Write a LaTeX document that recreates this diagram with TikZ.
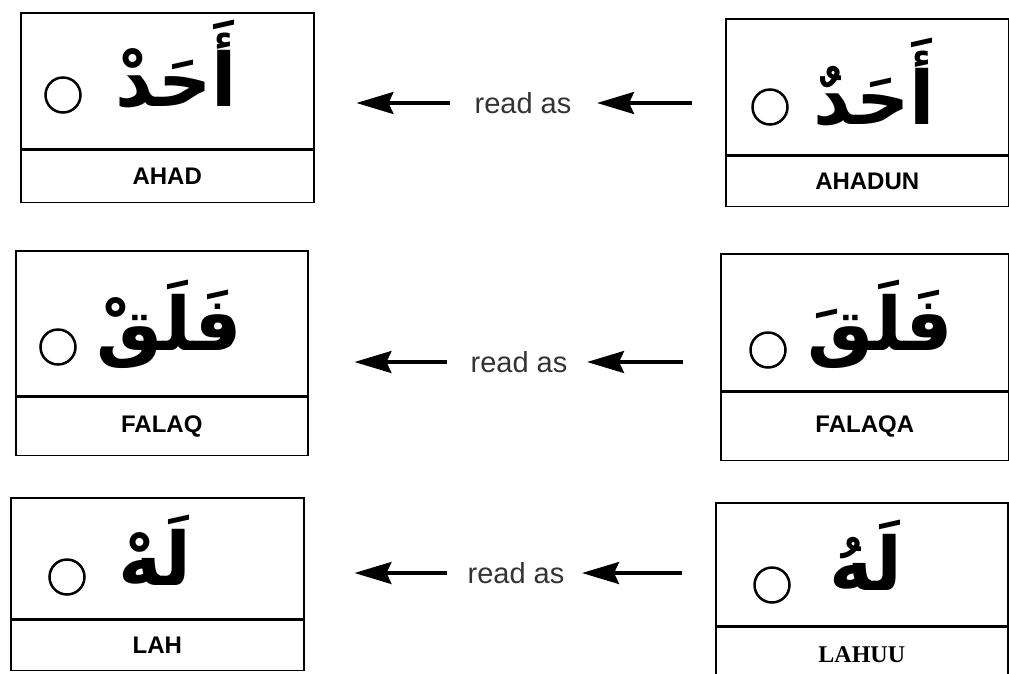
\documentclass[tikz,border=0pt]{standalone}
\usepackage{fontspec}
\setmainfont{Liberation Sans}
\newfontfamily\arabicfont[Script=Arabic]{DejaVu Sans}
\newfontfamily\serifname{Liberation Serif}
\TeXXeTstate=1
\usetikzlibrary{arrows.meta}

\tikzset{
  wordbox/.style={draw,line width=1.5pt,anchor=north west,inner sep=0pt},
  namebox/.style={draw,line width=1.5pt,anchor=north west,inner sep=0pt,
    font=\fontsize{24}{28}\selectfont\bfseries},
  divider/.style={line width=2.6pt},
  ring/.style={circle,draw,line width=2.5pt,minimum size=35pt,inner sep=0pt},
  word/.style={anchor=base,inner sep=0pt,font=\fontsize{74}{86}\arabicfont\bfseries},
  readas/.style={inner sep=0pt,font=\fontsize{29}{34}\selectfont,text=black!80},
  readarrow/.style={-{Stealth[length=37pt,width=22pt,inset=5pt]},line width=3.2pt},
}

\begin{document}
\begin{tikzpicture}[x=1pt,y=-1pt]
  \useasboundingbox (0,0) rectangle (1009,673);
  % left column: how the word is read
  \node[wordbox,minimum width=293pt,minimum height=136pt](ahad)at(20,12){};
  \node[namebox,minimum width=293pt,minimum height=52pt](ahadname)at(ahad.south west){AHAD};
  \node[wordbox,minimum width=292pt,minimum height=145pt](falaq)at(15,250){};
  \node[namebox,minimum width=292pt,minimum height=58pt](falaqname)at(falaq.south west){FALAQ};
  \node[wordbox,minimum width=293pt,minimum height=121pt](lah)at(10,497){};
  \node[namebox,minimum width=293pt,minimum height=50pt](lahname)at(lah.south west){LAH};
  % right column: the word as written
  \node[wordbox,minimum width=283pt,minimum height=136pt](ahadun)at(725,18){};
  \node[namebox,minimum width=283pt,minimum height=50pt](ahadunname)at(ahadun.south west){AHADUN};
  \node[wordbox,minimum width=288pt,minimum height=137pt](falaqa)at(720,253){};
  \node[namebox,minimum width=288pt,minimum height=68pt](falaqaname)at(falaqa.south west){FALAQA};
  \node[wordbox,minimum width=292pt,minimum height=123pt](lahuu)at(715,502){};
  \node[namebox,minimum width=292pt,minimum height=54pt,
        font=\fontsize{24}{28}\serifname\bfseries](lahuuname)at(lahuu.south west){LAHUU};
  % thick rules between word and name
  \draw[divider](ahad.south west)--(ahad.south east);
  \draw[divider](falaq.south west)--(falaq.south east);
  \draw[divider](lah.south west)--(lah.south east);
  \draw[divider](ahadun.south west)--(ahadun.south east);
  \draw[divider](falaqa.south west)--(falaqa.south east);
  \draw[divider](lahuu.south west)--(lahuu.south east);
  % rings
  \node[ring](ahadring)at(63,95){};
  \node[ring](falaqring)at(58,347){};
  \node[ring](lahring)at(67,577){};
  \node[ring](ahadunring)at(770,107){};
  \node[ring](falaqaring)at(768,350){};
  \node[ring](lahuuring)at(772,585){};
  % arabic words
  \node[word](ahadword)at(176,106){\beginR أَحَدْ\endR};
  \node[word](falaqword)at(169,350){\beginR فَلَقْ\endR};
  \node[word](lahword)at(155,585){\beginR لَهْ\endR};
  \node[word](ahadunword)at(874,124){\beginR أَحَدٌ\endR};
  \node[word](falaqaword)at(880,350){\beginR فَلَقَ\endR};
  \node[word](lahuuword)at(866,590){\beginR لَهُ\endR};
  % read as
  \node[readas](ra1)at(523,103){read as};
  \node[readas](ra2)at(519,362){read as};
  \node[readas](ra3)at(516,573){read as};
  \draw[readarrow,shorten <=33pt,shorten >=25.5pt](ra1.east -| ahadun.west)--(ra1.east);
  \draw[readarrow,shorten <=24.5pt,shorten >=42pt](ra1.west)--(ra1.west -| ahad.east);
  \draw[readarrow,shorten <=37pt,shorten >=19.5pt](ra2.east -| falaqa.west)--(ra2.east);
  \draw[readarrow,shorten <=23.5pt,shorten >=46pt](ra2.west)--(ra2.west -| falaq.east);
  \draw[readarrow,shorten <=33pt,shorten >=17.5pt](ra3.east -| lahuu.west)--(ra3.east);
  \draw[readarrow,shorten <=20.5pt,shorten >=50pt](ra3.west)--(ra3.west -| lah.east);
\end{tikzpicture}
\end{document}
